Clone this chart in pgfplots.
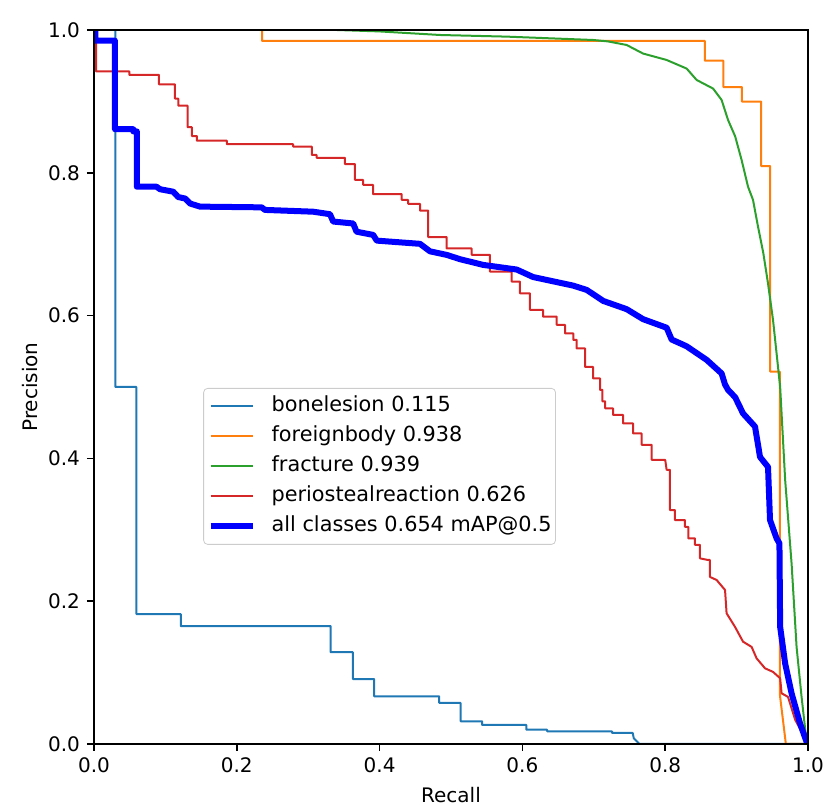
\documentclass[border=0pt]{standalone}
\usepackage{fontspec}
\setmainfont{DejaVu Sans}
\usepackage{pgfplots}
\pgfplotsset{compat=1.18}
\definecolor{cA}{HTML}{1F77B4}
\definecolor{cB}{HTML}{FF7F0E}
\definecolor{cC}{HTML}{2CA02C}
\definecolor{cD}{HTML}{D62728}
\definecolor{cE}{rgb}{0,0,1}
\begin{document}
\begin{tikzpicture}
\begin{axis}[
  scale only axis, width=357pt, height=357pt,
  xmin=0, xmax=1, ymin=0, ymax=1,
  axis on top,
  tick pos=left, tick align=outside,
  major tick length=3.5pt,
  every tick/.style={black, line width=0.8pt},
  axis line style={line width=0.8pt},
  xtick={0,0.2,0.4,0.6,0.8,1.0}, ytick={0,0.2,0.4,0.6,0.8,1.0},
  /pgf/number format/.cd, fixed, fixed zerofill, precision=1, assume math mode=true, /pgfplots/.cd,
  ticklabel style={font=\fontsize{10}{12}\selectfont},
  xlabel={Recall}, ylabel={Precision},
  label style={font=\fontsize{10}{12}\selectfont},
  every axis x label/.style={at={(axis description cs:0.5,-0.0714)}, anchor=center},
  every axis y label/.style={at={(axis description cs:-0.0896,0.5)}, anchor=center, rotate=90},
  legend cell align=left,
  legend image code/.code={\draw[#1] (0pt,0pt) -- (21pt,0pt);},
  legend style={at={(axis description cs:0.153,0.4986)}, anchor=north west,
    draw=black!20, rounded corners=2pt, fill=white, fill opacity=0.8, text opacity=1,
    font=\fontsize{10.4}{12}\selectfont, inner xsep=2pt, inner ysep=4pt, row sep=5pt, column sep=8pt,
    nodes={inner sep=0pt, text height=7.5pt, text depth=2.5pt}},
  every axis plot/.append style={line join=round},
]
\addplot[cA, line width=1pt] coordinates {
(0,1) (0.030,1) (0.030,0.5) (0.0595,0.5) (0.0595,0.182) (0.1215,0.182) (0.1215,0.165) (0.3315,0.165) (0.3315,0.1285) (0.3625,0.1285) (0.3625,0.091) (0.3925,0.091) (0.3925,0.0668) (0.4835,0.0668) (0.4835,0.0575) (0.5135,0.0575) (0.5135,0.0318) (0.5435,0.0318) (0.5435,0.0266) (0.6055,0.0266) (0.6055,0.0201) (0.6345,0.0201) (0.6345,0.0178) (0.7255,0.0178) (0.7255,0.0154) (0.7545,0.0154) (0.756,0.008) (0.764,0) (1,0)
};
\addlegendentry{bonelesion 0.115}
\addplot[cB, line width=1pt] coordinates {
(0,1) (0.2355,1) (0.2355,0.9846) (0.8555,0.9846) (0.8555,0.957) (0.8815,0.957) (0.8815,0.920) (0.9075,0.920) (0.9075,0.8997) (0.9345,0.8997) (0.9345,0.8095) (0.947,0.8095) (0.947,0.5215) (0.9605,0.5215) (0.9605,0.07) (0.969,0) (1,0)
};
\addlegendentry{foreignbody 0.938}
\addplot[cC, line width=1pt] coordinates {
(0,1) (0.34,1) (0.40,0.998) (0.4846,0.993) (0.578,0.9907) (0.699,0.986) (0.72,0.984) (0.746,0.979) (0.769,0.967) (0.802,0.958) (0.830,0.946) (0.844,0.930) (0.867,0.918) (0.879,0.902) (0.888,0.874) (0.898,0.851) (0.907,0.818) (0.916,0.7805) (0.923,0.762) (0.930,0.7245) (0.9375,0.687) (0.944,0.645) (0.951,0.594) (0.956,0.547) (0.961,0.5) (0.968,0.37) (0.977,0.253) (0.984,0.136) (0.991,0.066) (0.998,0.003) (1,0)
};
\addlegendentry{fracture 0.939}
\addplot[cD, line width=1pt] coordinates {
(0,1) (0.003,1) (0.003,0.942) (0.0495,0.942) (0.0495,0.937) (0.091,0.937) (0.091,0.924) (0.1134,0.924) (0.1134,0.904) (0.118,0.904) (0.118,0.894) (0.131,0.894) (0.131,0.864) (0.137,0.864) (0.137,0.8515) (0.144,0.8515) (0.144,0.845) (0.186,0.845) (0.186,0.840) (0.279,0.840) (0.279,0.8366) (0.305,0.8366) (0.305,0.825) (0.3117,0.825) (0.3117,0.821) (0.3515,0.821) (0.3515,0.8123) (0.3655,0.8123) (0.3655,0.79) (0.377,0.79) (0.377,0.783) (0.391,0.783) (0.391,0.770) (0.431,0.770) (0.431,0.762) (0.440,0.762) (0.440,0.7565) (0.4566,0.7565) (0.4566,0.747) (0.468,0.747) (0.468,0.710) (0.494,0.710) (0.494,0.694) (0.529,0.694) (0.529,0.685) (0.5546,0.685) (0.5546,0.6615) (0.585,0.6615) (0.585,0.6475) (0.5966,0.6475) (0.5966,0.631) (0.6106,0.631) (0.6106,0.608) (0.629,0.608) (0.629,0.5985) (0.648,0.5985) (0.648,0.587) (0.6597,0.587) (0.6597,0.575) (0.6713,0.575) (0.6713,0.566) (0.676,0.566) (0.676,0.554) (0.6877,0.554) (0.6877,0.528) (0.699,0.528) (0.699,0.512) (0.7087,0.512) (0.7087,0.496)
(0.712,0.496) (0.712,0.48) (0.716,0.48) (0.716,0.47) (0.727,0.47) (0.727,0.461) (0.741,0.461) (0.741,0.449) (0.755,0.449) (0.755,0.435) (0.767,0.435) (0.767,0.419) (0.781,0.419) (0.781,0.398) (0.800,0.398) (0.802,0.384) (0.8067,0.384) (0.8067,0.3277) (0.8137,0.3277) (0.8137,0.3137) (0.8277,0.3137) (0.8277,0.304) (0.8323,0.304) (0.8323,0.288) (0.8417,0.288) (0.8417,0.279) (0.8487,0.279) (0.8487,0.260) (0.860,0.2577) (0.8627,0.2577) (0.8627,0.234) (0.872,0.2297) (0.8838,0.2157) (0.886,0.183) (0.8978,0.164) (0.909,0.1433) (0.921,0.136) (0.928,0.12) (0.9398,0.106) (0.951,0.101) (0.961,0.092) (0.963,0.071) (0.972,0.066) (0.982,0.034) (0.986,0.0266) (1,0)
};
\addlegendentry{periostealreaction 0.626}
\addplot[cE, line width=3pt] coordinates {
(0,1) (0.002,1) (0.002,0.985) (0.0294,0.985) (0.0294,0.861) (0.055,0.861) (0.055,0.858) (0.06,0.858) (0.06,0.7805) (0.0876,0.7805) (0.0924,0.777) (0.111,0.7735) (0.118,0.766) (0.1275,0.764) (0.1345,0.757) (0.1485,0.7526) (0.2348,0.7516) (0.2395,0.748) (0.307,0.7455) (0.3305,0.742) (0.335,0.7317) (0.363,0.729) (0.3677,0.7175) (0.391,0.713) (0.396,0.705) (0.4566,0.7005) (0.4706,0.690) (0.494,0.685) (0.5126,0.679) (0.545,0.671) (0.592,0.6645) (0.615,0.654) (0.671,0.642) (0.690,0.636) (0.7133,0.6205) (0.746,0.609) (0.769,0.595) (0.802,0.583) (0.809,0.5665) (0.830,0.557) (0.858,0.538) (0.879,0.519) (0.8838,0.5035) (0.888,0.496) (0.898,0.4856) (0.909,0.463) (0.9258,0.4445) (0.9328,0.402) (0.944,0.388) (0.9468,0.3137) (0.956,0.288) (0.96,0.281) (0.961,0.164) (0.968,0.1127) (0.977,0.071) (0.9888,0.029) (0.998,0.003) (1,0)
};
\addlegendentry{all classes 0.654 mAP@0.5}
\end{axis}
\path ([shift={(-47pt,-34pt)}]current axis.south west) rectangle ([shift={(11.5pt,15pt)}]current axis.north east);
\end{tikzpicture}
\end{document}
